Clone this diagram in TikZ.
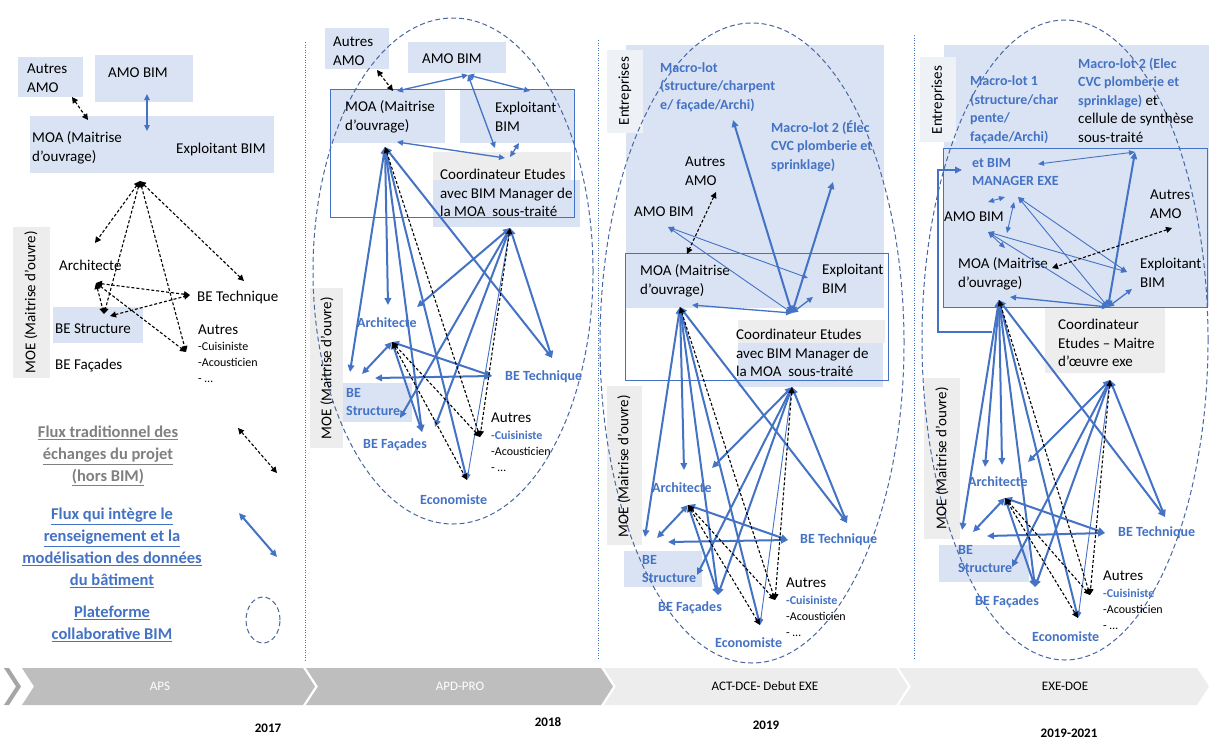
\documentclass[tikz,border=0pt]{standalone}
\usepackage{fontspec}
\setmainfont{Carlito}
\usetikzlibrary{arrows.meta}

\definecolor{bimblue}{HTML}{4472C4}
\definecolor{lightblue}{HTML}{DAE3F3}
\definecolor{lightgray}{HTML}{EDEDED}
\definecolor{ovalblue}{HTML}{4A67A0}
\definecolor{legendgray}{HTML}{808080}
\definecolor{phasedark}{HTML}{BEBEBE}
\definecolor{phasedeep}{HTML}{A6A6A6}
\definecolor{phaselight}{HTML}{EDEDED}
\definecolor{entgray}{HTML}{EEF1F6}

\begin{document}
\begin{tikzpicture}[x=1pt, y=-1pt,
  txt/.style={inner sep=0pt, anchor=west, align=left, font=\fontsize{15}{18.5}\selectfont},
  btxt/.style={txt, text=bimblue, font=\bfseries\fontsize{14}{18.5}\selectfont},
  small/.style={inner sep=0pt, anchor=west, align=left, font=\fontsize{12}{16}\selectfont},
  vlabel/.style={inner sep=0pt, rotate=90, font=\fontsize{15}{18}\selectfont},
  legend/.style={inner sep=0pt, align=center, font=\bfseries\fontsize{16.5}{22}\selectfont},
  bimflow/.style={bimblue, line width=2pt, {Triangle[length=7pt,width=6.5pt]}-{Triangle[length=7pt,width=6.5pt]}},
  midflow/.style={bimblue, line width=1.3pt, {Triangle[length=6pt,width=5.5pt]}-{Triangle[length=6pt,width=5.5pt]}},
  thinflow/.style={bimblue, line width=.9pt, {Triangle[length=6pt,width=5pt]}-{Triangle[length=6pt,width=5pt]}},
  tradflow/.style={black, line width=1.1pt, dash pattern=on 3pt off 2pt, {Triangle[length=6pt,width=6pt]}-{Triangle[length=6pt,width=6pt]}},
  oval/.style={ovalblue, line width=1pt, dash pattern=on 5pt off 3pt},
  zone/.style={bimblue, line width=1pt},
  sep/.style={bimblue, line width=.8pt, dash pattern=on 1pt off 1.5pt},
  phase/.style={inner sep=0pt, font=\fontsize{13}{15}\selectfont},
  year/.style={inner sep=0pt, font=\bfseries\fontsize{13}{15}\selectfont}]

\fill[white] (0,0) rectangle (1209,742);
\useasboundingbox (0,0) rectangle (1209,742);

% separators
\draw[sep] (305,42) -- (305,660);
\draw[sep] (598,40) -- (598,660);
\draw[sep] (914,35) -- (914,660);

% ---------- 2017 ----------
\fill[lightblue] (18,57) rectangle (83,97);
\fill[lightblue] (95,55) rectangle (193,102);
\fill[lightblue] (30,116) rectangle (274,173);
\fill[lightblue] (53,307) rectangle (143,343);
\fill[lightgray] (13,227) rectangle (50,378);
\node[txt] (t1autresamo) at (27,78) {Autres\\AMO};
\node[txt] (t1amobim) at (108,73) {AMO BIM};
\node[txt] (t1moa) at (32,148) {MOA (Maitrise\\d’ouvrage)};
\node[txt] (t1exploit) at (176,149) {Exploitant BIM};
\node[txt] (t1arch) at (59,265) {Architecte};
\node[txt] (t1tech) at (197,297) {BE Technique};
\node[txt] (t1struct) at (55,329) {BE Structure};
\node[txt] (t1facades) at (55,366) {BE Façades};
\node[txt] (t1autres) at (198,330) {Autres};
\node[small] (t1liste) at (198,362) {-Cuisiniste\\-Acousticien\\- …};
\node[vlabel] (t1moe) at (31,302) {MOE (Maitrise d’ouvre)};

\coordinate (p1amoB) at (147,94);
\coordinate (p1moaT2) at (147,131);
\coordinate (p1autresAMO) at (72,97);
\coordinate (p1moaT) at (88,120);
\coordinate (p1hub) at (140,181);
\coordinate (p1archT) at (95,243);
\coordinate (p1arch) at (96,283);
\coordinate (p1struct) at (104,314);
\coordinate (p1structR) at (110,316);
\coordinate (p1tech) at (244,281);
\coordinate (p1techL) at (190,295);
\coordinate (p1autres) at (186,352);

\draw[midflow] (p1amoB) -- (p1moaT2);
\draw[tradflow] (p1autresAMO) -- (p1moaT);
\draw[tradflow] (p1hub) -- (p1archT);
\draw[tradflow] (p1hub) -- (p1struct);
\draw[tradflow] (p1hub) -- (p1autres);
\draw[tradflow] (p1hub) -- (p1tech);
\draw[tradflow] (p1arch) -- (p1techL);
\draw[tradflow] (p1arch) -- (p1struct);
\draw[tradflow] (p1arch) -- (p1autres);
\draw[tradflow] (p1structR) -- (p1techL);

% legend
\node[legend, text=legendgray] (legtrad) at (108,456)
  {\underline{Flux traditionnel des}\\\underline{échanges du projet}\\\underline{(hors BIM)}};
\node[legend, text=bimblue] (legbim) at (112,548)
  {\underline{Flux qui intègre le}\\\underline{renseignement et la}\\\underline{modélisation des données}\\\underline{du bâtiment}};
\node[legend, text=bimblue] (legoval) at (112,624)
  {\underline{Plateforme}\\\underline{collaborative BIM}};
\coordinate (legtradA) at (238,428);
\coordinate (legtradB) at (277,473);
\coordinate (legbimA) at (239,513);
\coordinate (legbimB) at (277,557);
\draw[tradflow] (legtradA) -- (legtradB);
\draw[bimflow] (legbimA) -- (legbimB);
\draw[oval] (263,620) ellipse [x radius=17pt, y radius=23pt];

% ---------- 2018 ----------
\fill[lightblue] (325,28) rectangle (389,69);
\fill[lightblue] (408,42) rectangle (506,73);
\fill[lightblue] (330,89) rectangle (445,143);
\fill[lightblue] (460,89) rectangle (574,143);
\fill[lightgray] (433,152) rectangle (571,182);
\fill[lightblue] (433,180) rectangle (580,227);
\fill[lightblue] (343,383) rectangle (412,422);
\fill[lightgray] (310,288) rectangle (343,448);
\draw[zone] (330,89) rectangle (574,217);
\draw[oval] (453,271) ellipse [x radius=140pt, y radius=253pt];
\node[txt] (t2autresamo) at (333,51) {Autres\\AMO};
\node[txt] (t2amobim) at (422,59) {AMO BIM};
\node[txt] (t2moa) at (345,117) {MOA (Maitrise\\d’ouvrage)};
\node[txt] (t2exploit) at (495,117) {Exploitant\\BIM};
\node[txt] (t2coord) at (440,193) {Coordinateur Etudes\\avec BIM Manager de\\la MOA~~sous-traité};
\node[btxt] (t2arch) at (357,323) {Architecte};
\node[btxt] (t2tech) at (505,377) {BE Technique};
\node[btxt] (t2struct) at (346,402) {BE\\Structure};
\node[btxt] (t2facades) at (363,445) {BE Façades};
\node[txt] (t2autres) at (491,418) {Autres};
\node[small] (t2liste) at (491,451) {\textcolor{bimblue}{\bfseries -Cuisiniste}\\-Acousticien\\- …};
\node[btxt] (t2eco) at (420,500) {Economiste};
\node[vlabel] (t2moe) at (327,368) {MOE (Maitrise d’ouvre)};

\coordinate (p2amo) at (468,75);
\coordinate (p2moaT) at (397,91);
\coordinate (p2expT) at (530,91);
\coordinate (p2coordT) at (495,148);
\coordinate (p2autresAMO) at (377,70);
\coordinate (p2moaTL) at (393,91);
\coordinate (p2moaR) at (397,142);
\coordinate (p2coordL) at (505,158);
\coordinate (p2expB) at (519,143);
\coordinate (p2coordTR) at (510,157);
\coordinate (p2moa) at (385,147);
\coordinate (p2coord) at (510,228);
\coordinate (p2arch) at (392,342);
\coordinate (p2archT) at (388,305);
\coordinate (p2archR) at (417,307);
\coordinate (p2structL) at (350,372);
\coordinate (p2structT) at (362,374);
\coordinate (p2structH) at (375,378);
\coordinate (p2structR) at (400,418);
\coordinate (p2facT) at (422,432);
\coordinate (p2facR) at (435,427);
\coordinate (p2tech) at (552,358);
\coordinate (p2techL) at (492,376);
\coordinate (p2eco) at (467,480);
\coordinate (p2autres) at (480,437);

\draw[midflow] (p2amo) -- (p2moaT);
\draw[midflow] (p2amo) -- (p2expT);
\draw[midflow] (p2amo) -- (p2coordT);
\draw[midflow] (p2moaR) -- (p2coordL);
\draw[midflow] (p2expB) -- (p2coordTR);
\draw[tradflow] (p2autresAMO) -- (p2moaTL);
\draw[bimflow] (p2moa) -- (p2structL);
\draw[bimflow] (p2moa) -- (p2archT);
\draw[bimflow] (p2moa) -- (p2facT);
\draw[bimflow] (p2moa) -- (p2eco);
\draw[bimflow] (p2moa) -- (p2tech);
\draw[bimflow] (p2coord) -- (p2archR);
\draw[bimflow] (p2coord) -- (p2structR);
\draw[bimflow] (p2coord) -- (p2facR);
\draw[bimflow] (p2coord) -- (p2tech);
\draw[thinflow] (p2coord) -- (p2eco);
\draw[bimflow] (p2arch) -- (p2structT);
\draw[bimflow] (p2arch) -- (p2techL);
\draw[bimflow] (p2arch) -- (p2facT);
\draw[bimflow] (p2structH) -- (p2techL);
\draw[tradflow] (p2moa) -- (p2autres);
\draw[tradflow] (p2coord) -- (p2autres);
\draw[tradflow] (p2arch) -- (p2autres);
\draw[tradflow] (p2arch) -- (p2eco);

% ---------- 2019 ----------
\fill[lightblue] (626,45) rectangle (884,308);
\fill[entgray] (607,50) rectangle (643,133);
\fill[lightgray] (738,320) rectangle (885,343);
\fill[lightblue] (738,343) rectangle (883,387);
\fill[lightblue] (624,551) rectangle (702,587);
\fill[lightgray] (607,386) rectangle (642,545);
\draw[zone] (625,253) rectangle (888,380);
\draw[oval] (752,343) ellipse [x radius=152pt, y radius=320pt];
\node[vlabel] (t3ent) at (625,91) {Entreprises};
\node[btxt] (t3lot1) at (660,87) {Macro-lot\\(structure/charpent\\e/ façade/Archi)};
\node[btxt] (t3lot2) at (771,146) {Macro-lot 2 (Élec\\CVC plomberie et\\sprinklage)};
\node[txt] (t3autresamo) at (685,171) {Autres\\AMO};
\node[txt] (t3amobim) at (634,212) {AMO BIM};
\node[txt] (t3moa) at (640,281) {MOA (Maitrise\\d’ouvrage)};
\node[txt] (t3exploit) at (822,279) {Exploitant\\BIM};
\node[txt] (t3coord) at (736,353) {Coordinateur Etudes\\avec BIM Manager de\\la MOA~~sous-traité};
\node[btxt] (t3arch) at (652,488) {Architecte};
\node[btxt] (t3tech) at (800,540) {BE Technique};
\node[btxt] (t3struct) at (642,569) {BE\\Structure};
\node[btxt] (t3facades) at (658,608) {BE Façades};
\node[txt] (t3autres) at (786,583) {Autres};
\node[small] (t3liste) at (786,616) {\textcolor{bimblue}{\bfseries -Cuisiniste}\\-Acousticien\\- …};
\node[btxt] (t3eco) at (715,643) {Economiste};
\node[vlabel] (t3moe) at (624,466) {MOE (Maitrise d’ouvre)};

\coordinate (p3coord) at (792,313);
\coordinate (p3lot1) at (733,120);
\coordinate (p3lot2) at (833,182);
\coordinate (p3moaR) at (692,305);
\coordinate (p3expB) at (813,297);
\coordinate (p3amo) at (668,227);
\coordinate (p3exp) at (808,278);
\coordinate (p3autresAMO) at (716,192);
\coordinate (p3moaT) at (687,254);
\coordinate (p3moa) at (680,307);
\coordinate (p3coordB) at (792,387);
\coordinate (p3arch) at (688,505);
\coordinate (p3archT) at (684,470);
\coordinate (p3archR) at (712,468);
\coordinate (p3structL) at (645,537);
\coordinate (p3structT) at (657,538);
\coordinate (p3structH) at (668,542);
\coordinate (p3structR) at (697,575);
\coordinate (p3facT) at (718,595);
\coordinate (p3tech) at (847,523);
\coordinate (p3techL) at (788,540);
\coordinate (p3eco) at (760,625);
\coordinate (p3autres) at (775,600);

\draw[bimflow] (p3coord) -- (p3lot1);
\draw[bimflow] (p3coord) -- (p3lot2);
\draw[midflow] (p3coord) -- (p3moaR);
\draw[midflow] (p3coord) -- (p3expB);
\draw[thinflow] (p3coord) -- (p3amo);
\draw[thinflow] (p3amo) -- (p3exp);
\draw[tradflow] (p3autresAMO) -- (p3moaT);
\draw[bimflow] (p3moa) -- (p3archT);
\draw[bimflow] (p3moa) -- (p3structL);
\draw[bimflow] (p3moa) -- (p3facT);
\draw[bimflow] (p3moa) -- (p3eco);
\draw[bimflow] (p3moa) -- (p3tech);
\draw[bimflow] (p3coordB) -- (p3archR);
\draw[bimflow] (p3coordB) -- (p3structR);
\draw[bimflow] (p3coordB) -- (p3facT);
\draw[bimflow] (p3coordB) -- (p3tech);
\draw[thinflow] (p3coordB) -- (p3eco);
\draw[bimflow] (p3arch) -- (p3structT);
\draw[bimflow] (p3arch) -- (p3techL);
\draw[bimflow] (p3arch) -- (p3facT);
\draw[bimflow] (p3structH) -- (p3techL);
\draw[tradflow] (p3moa) -- (p3autres);
\draw[tradflow] (p3coordB) -- (p3autres);
\draw[tradflow] (p3arch) -- (p3autres);
\draw[tradflow] (p3arch) -- (p3eco);

% ---------- 2019-2021 ----------
\fill[lightblue] (944,45) rectangle (1209,307);
\fill[entgray] (920,57) rectangle (956,142);
\fill[lightgray] (1045,308) rectangle (1165,373);
\fill[lightblue] (939,545) rectangle (1029,582);
\fill[lightgray] (924,378) rectangle (960,539);
\draw[zone] (943,148) rectangle (1207,307);
\draw[oval] (1065,340) ellipse [x radius=143pt, y radius=320pt];
\node[vlabel] (t4ent) at (938,100) {Entreprises};
\node[btxt] (t4lot1) at (970,110) {Macro-lot 1\\(structure/char\\pente/\\façade/Archi)};
\node[txt] (t4lot2) at (1078,100) {\textcolor{bimblue}{\bfseries\fontsize{14}{18.5}\selectfont Macro-lot 2 (Elec}\\
  \textcolor{bimblue}{\bfseries\fontsize{14}{18.5}\selectfont CVC plomberie et}\\
  \textcolor{bimblue}{\bfseries\fontsize{14}{18.5}\selectfont sprinklage)} et\\cellule de synthèse\\sous-traité};
\node[btxt] (t4bim) at (972,172) {et BIM\\MANAGER EXE};
\node[txt] (t4amobim) at (944,217) {AMO BIM};
\node[txt] (t4autresamo) at (1150,204) {Autres\\AMO};
\node[txt] (t4moa) at (958,274) {MOA (Maitrise\\d’ouvrage)};
\node[txt] (t4exploit) at (1140,273) {Exploitant\\BIM};
\node[txt] (t4coord) at (1058,343) {Coordinateur\\Etudes – Maitre\\d’œuvre exe};
\node[btxt] (t4arch) at (968,482) {Architecte};
\node[btxt] (t4tech) at (1118,533) {BE Technique};
\node[btxt] (t4struct) at (958,559) {BE\\Structure};
\node[btxt] (t4facades) at (975,602) {BE Façades};
\node[txt] (t4autres) at (1103,576) {Autres};
\node[small] (t4liste) at (1103,609) {\textcolor{bimblue}{\bfseries -Cuisiniste}\\-Acousticien\\- …};
\node[btxt] (t4eco) at (1032,637) {Economiste};
\node[vlabel] (t4moe) at (942,458) {MOE (Maitrise d’ouvre)};

\coordinate (p4coord) at (1108,307);
\coordinate (p4lot2) at (1135,152);
\coordinate (p4moaR) at (1010,297);
\coordinate (p4expB) at (1132,289);
\coordinate (p4bim) at (1018,197);
\coordinate (p4bimR) at (1038,164);
\coordinate (p4bimL) at (962,170);
\coordinate (p4bimA) at (988,202);
\coordinate (p4bimB) at (1005,197);
\coordinate (p4bimD) at (1014,202);
\coordinate (p4amo) at (988,232);
\coordinate (p4amoR) at (1007,233);
\coordinate (p4moaT) at (1005,248);
\coordinate (p4exp) at (1127,272);
\coordinate (p4autresAMO) at (1172,228);
\coordinate (p4moaR2) at (1052,268);
\coordinate (p4elbow) at (992,332);
\coordinate (p4elbowA) at (938,332);
\coordinate (p4elbowB) at (938,170);
\coordinate (p4moa) at (999,300);
\coordinate (p4coordB) at (1110,380);
\coordinate (p4arch) at (1005,498);
\coordinate (p4archT) at (985,467);
\coordinate (p4archT2) at (1002,465);
\coordinate (p4archR) at (1028,462);
\coordinate (p4structL) at (962,530);
\coordinate (p4structT) at (973,532);
\coordinate (p4structH) at (987,536);
\coordinate (p4structR) at (1012,567);
\coordinate (p4facT) at (1035,587);
\coordinate (p4tech) at (1165,517);
\coordinate (p4techL) at (1105,533);
\coordinate (p4eco) at (1078,618);
\coordinate (p4autres) at (1090,595);

\draw[bimflow] (p4coord) -- (p4lot2);
\draw[midflow] (p4coord) -- (p4moaR);
\draw[midflow] (p4coord) -- (p4expB);
\draw[thinflow] (p4coord) -- (p4bim);
\draw[thinflow] (p4coord) -- (p4amo);
\draw[thinflow] (p4bimR) -- (p4lot2);
\draw[thinflow] (p4bimA) -- (p4bimB);
\draw[thinflow] (p4amoR) -- (p4bimD);
\draw[thinflow] (p4amo) -- (p4exp);
\draw[thinflow] (p4amo) -- (p4moaT);
\draw[thinflow] (p4bim) -- (p4exp);
\draw[tradflow] (p4autresAMO) -- (p4moaR2);
\draw[bimblue, line width=2pt, -{Triangle[length=7pt,width=6.5pt]}]
  (p4elbow) -- (p4elbowA) -- (p4elbowB) -- (p4bimL);
\draw[bimflow] (p4moa) -- (p4archT);
\draw[bimflow] (p4moa) -- (p4archT2);
\draw[bimflow] (p4moa) -- (p4structL);
\draw[bimflow] (p4moa) -- (p4facT);
\draw[bimflow] (p4moa) -- (p4eco);
\draw[bimflow] (p4moa) -- (p4tech);
\draw[bimflow] (p4coordB) -- (p4archR);
\draw[bimflow] (p4coordB) -- (p4structR);
\draw[bimflow] (p4coordB) -- (p4facT);
\draw[bimflow] (p4coordB) -- (p4tech);
\draw[thinflow] (p4coordB) -- (p4eco);
\draw[bimflow] (p4arch) -- (p4structT);
\draw[bimflow] (p4arch) -- (p4techL);
\draw[bimflow] (p4arch) -- (p4facT);
\draw[bimflow] (p4structH) -- (p4techL);
\draw[tradflow] (p4moa) -- (p4autres);
\draw[tradflow] (p4coordB) -- (p4autres);
\draw[tradflow] (p4arch) -- (p4autres);
\draw[tradflow] (p4arch) -- (p4eco);

% ---------- phases ----------
\fill[phasedeep] (4,668) -- (9,668) -- (21,686.5) -- (9,705) -- (4,705) -- (16,686.5) -- cycle;
\fill[phasedark] (22,668) -- (303,668) -- (315,686.5) -- (303,705) -- (22,705) -- (34,686.5) -- cycle;
\fill[phasedark] (306,668) -- (601,668) -- (613,686.5) -- (601,705) -- (306,705) -- (318,686.5) -- cycle;
\fill[phaselight] (604,668) -- (896,668) -- (908,686.5) -- (896,705) -- (604,705) -- (616,686.5) -- cycle;
\fill[phaselight] (899,668) -- (1197,668) -- (1209,686.5) -- (1197,705) -- (899,705) -- (911,686.5) -- cycle;
\node[phase, text=white] (aps) at (160,686.5) {APS};
\node[phase, text=white] (apdpro) at (460,686.5) {APD-PRO};
\node[phase] (actdce) at (765,686.5) {ACT-DCE- Debut EXE};
\node[phase] (exedoe) at (1065,686.5) {EXE-DOE};
\node[year] (y2017) at (268,728) {2017};
\node[year] (y2018) at (548,722) {2018};
\node[year] (y2019) at (766,725) {2019};
\node[year] (y2021) at (1069,733) {2019-2021};
\end{tikzpicture}
\end{document}
